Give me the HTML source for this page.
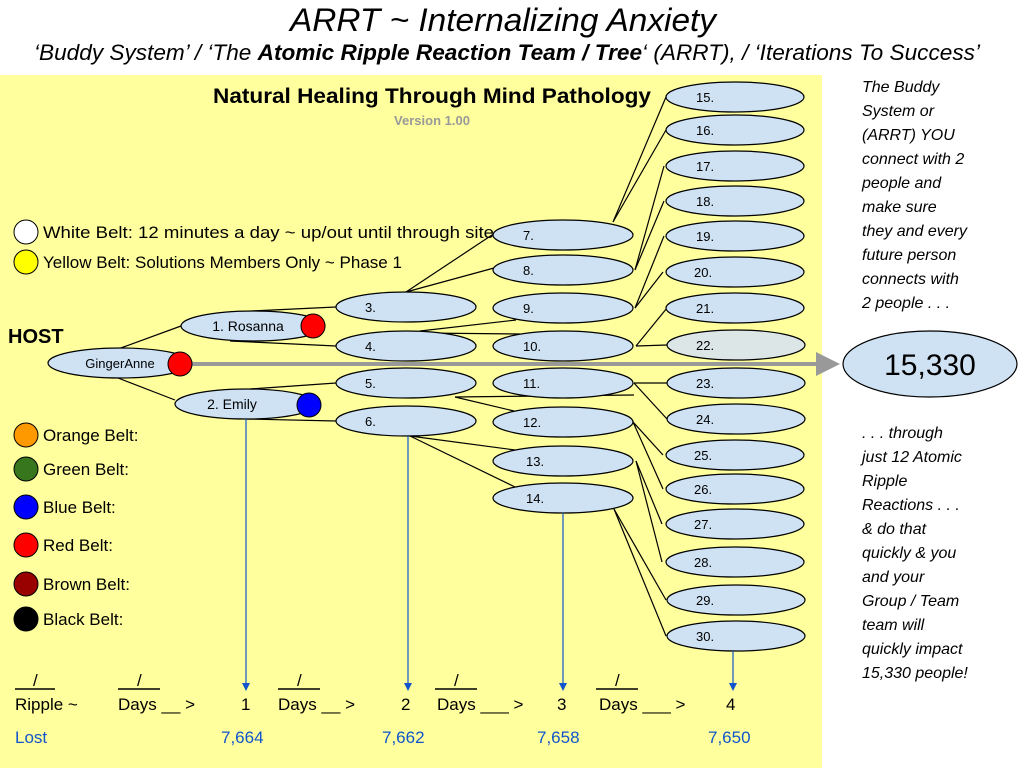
<!DOCTYPE html>
<html><head><meta charset="utf-8"><style>
html,body{margin:0;padding:0;background:#fff;}
svg{display:block;font-family:"Liberation Sans",sans-serif;}
</style></head><body>
<svg width="1024" height="768" viewBox="0 0 1024 768" xmlns="http://www.w3.org/2000/svg">
<defs>
<marker id="ga" markerWidth="6" markerHeight="6" refX="5" refY="3" orient="auto" markerUnits="strokeWidth"><path d="M0,0 L6,3 L0,6 z" fill="#999"/></marker>
<marker id="ba" markerWidth="8" markerHeight="8" refX="7" refY="4" orient="auto" markerUnits="userSpaceOnUse"><path d="M0,0 L8,4 L0,8 z" fill="#1155cc"/></marker>
</defs>
<rect x="0" y="75" width="822" height="693" fill="#ffff9e"/>
<text x="503" y="31" font-size="32" font-style="italic" text-anchor="middle" textLength="426" lengthAdjust="spacingAndGlyphs">ARRT ~ Internalizing Anxiety</text>
<text x="507" y="60" font-size="22" font-style="italic" text-anchor="middle" textLength="946" lengthAdjust="spacingAndGlyphs">‘Buddy System’ / ‘The <tspan font-weight="bold">Atomic Ripple Reaction Team / Tree</tspan>‘ (ARRT), / ‘Iterations To Success’</text>
<text x="432" y="103" font-size="21" font-weight="bold" text-anchor="middle" textLength="438" lengthAdjust="spacingAndGlyphs">Natural Healing Through Mind Pathology</text>
<text x="432" y="125" font-size="13" font-weight="bold" fill="#999" text-anchor="middle">Version 1.00</text>

<g font-size="16" font-style="italic">
<text x="862" y="92">The Buddy</text><text x="862" y="116">System or</text><text x="862" y="140">(ARRT) YOU</text><text x="862" y="164">connect with 2</text><text x="862" y="188">people and</text><text x="862" y="212">make sure</text><text x="862" y="236">they and every</text><text x="862" y="260">future person</text><text x="862" y="284">connects with</text><text x="862" y="308">2 people . . .</text>
<text x="862" y="438">. . . through</text><text x="862" y="462">just 12 Atomic</text><text x="862" y="486">Ripple</text><text x="862" y="510">Reactions . . .</text><text x="862" y="534">&amp; do that</text><text x="862" y="558">quickly &amp; you</text><text x="862" y="582">and your</text><text x="862" y="606">Group / Team</text><text x="862" y="630">team will</text><text x="862" y="654">quickly impact</text><text x="862" y="678">15,330 people!</text>
</g>

<g stroke="#000" stroke-width="1.2" fill="none">
<line x1="118" y1="349" x2="181" y2="326"/><line x1="118" y1="378" x2="175" y2="400"/>
<line x1="230" y1="312" x2="336" y2="307"/><line x1="230" y1="341" x2="336" y2="346"/>
<line x1="246" y1="419" x2="336" y2="421"/><line x1="250" y1="389" x2="336" y2="383"/>
<line x1="406" y1="292" x2="495" y2="233"/><line x1="406" y1="292" x2="494" y2="268"/>
<line x1="420" y1="331" x2="516" y2="320"/><line x1="420" y1="333" x2="520" y2="334"/>
<line x1="455" y1="397" x2="634" y2="395"/><line x1="455" y1="397" x2="514" y2="411"/>
<line x1="410" y1="436" x2="515" y2="450"/><line x1="410" y1="436" x2="515" y2="487"/>
<line x1="613" y1="222" x2="666" y2="97"/><line x1="613" y1="222" x2="666" y2="130"/>
<line x1="635" y1="270" x2="664" y2="166"/><line x1="635" y1="270" x2="664" y2="201"/>
<line x1="635" y1="308" x2="664" y2="236"/><line x1="635" y1="308" x2="663" y2="272"/>
<line x1="636" y1="346" x2="667" y2="308"/><line x1="636" y1="346" x2="667" y2="345"/>
<line x1="634" y1="383" x2="667" y2="383"/><line x1="634" y1="383" x2="667" y2="419"/>
<line x1="633" y1="422" x2="663" y2="455"/><line x1="633" y1="422" x2="663" y2="489"/>
<line x1="636" y1="461" x2="662" y2="524"/><line x1="636" y1="461" x2="662" y2="562"/>
<line x1="614" y1="509" x2="666" y2="600"/><line x1="614" y1="509" x2="666" y2="636"/>
</g>

<g fill="#cfe2f3" stroke="#000" stroke-width="1.2">
<ellipse cx="120" cy="363" rx="72" ry="15"/>
<ellipse cx="253" cy="326" rx="72" ry="15"/>
<ellipse cx="246" cy="404" rx="71" ry="15"/>
<ellipse cx="406" cy="307" rx="70" ry="15"/><ellipse cx="406" cy="346" rx="70" ry="15"/><ellipse cx="406" cy="383" rx="70" ry="15"/><ellipse cx="406" cy="421" rx="70" ry="15"/>
<ellipse cx="563" cy="235" rx="70" ry="15"/><ellipse cx="563" cy="270" rx="70" ry="15"/><ellipse cx="563" cy="308" rx="70" ry="15"/><ellipse cx="563" cy="346" rx="70" ry="15"/><ellipse cx="563" cy="383" rx="70" ry="15"/><ellipse cx="563" cy="422" rx="70" ry="15"/><ellipse cx="563" cy="461" rx="70" ry="15"/><ellipse cx="563" cy="498" rx="70" ry="15"/>
<ellipse cx="735" cy="97" rx="69" ry="15"/><ellipse cx="735" cy="130" rx="69" ry="15"/><ellipse cx="735" cy="166" rx="69" ry="15"/><ellipse cx="735" cy="201" rx="69" ry="15"/><ellipse cx="735" cy="236" rx="69" ry="15"/><ellipse cx="735" cy="272" rx="69" ry="15"/><ellipse cx="735" cy="308" rx="69" ry="15"/><ellipse cx="736" cy="345" rx="69" ry="15" fill="#dce6e6"/><ellipse cx="736" cy="383" rx="69" ry="15"/><ellipse cx="736" cy="419" rx="69" ry="15"/><ellipse cx="735" cy="455" rx="69" ry="15"/><ellipse cx="735" cy="489" rx="69" ry="15"/><ellipse cx="735" cy="524" rx="69" ry="15"/><ellipse cx="735" cy="562" rx="69" ry="15"/><ellipse cx="736" cy="600" rx="69" ry="15"/><ellipse cx="736" cy="636" rx="69" ry="15"/>
<ellipse cx="930" cy="364" rx="87" ry="33"/>
</g>

<line x1="192" y1="364" x2="836" y2="364" stroke="#999" stroke-width="4" marker-end="url(#ga)"/>

<g stroke="#000" stroke-width="1">
<circle cx="180" cy="364" r="12" fill="#f00"/><circle cx="313" cy="326" r="12" fill="#f00"/><circle cx="309" cy="405" r="12" fill="#00f"/>
<circle cx="26" cy="232" r="12" fill="#fff"/><circle cx="26" cy="262" r="12" fill="#ff0"/>
<circle cx="26" cy="435" r="12" fill="#ff9900"/><circle cx="26" cy="469" r="12" fill="#38761d"/><circle cx="26" cy="507" r="12" fill="#00f"/><circle cx="26" cy="545" r="12" fill="#f00"/><circle cx="26" cy="584" r="12" fill="#990000"/><circle cx="26" cy="619" r="12" fill="#000"/>
</g>

<g font-size="13" fill="#000">
<text x="120" y="368" text-anchor="middle">GingerAnne</text>
<text x="248" y="331" text-anchor="middle" font-size="14">1. Rosanna</text>
<text x="232" y="409" text-anchor="middle" font-size="14">2. Emily</text>
<text x="365" y="312">3.</text><text x="365" y="351">4.</text><text x="365" y="388">5.</text><text x="365" y="426">6.</text>
<text x="523" y="240">7.</text><text x="523" y="275">8.</text><text x="523" y="313">9.</text><text x="523" y="351">10.</text><text x="523" y="388">11.</text><text x="523" y="427">12.</text><text x="526" y="466">13.</text><text x="526" y="503">14.</text>
<text x="696" y="102">15.</text><text x="696" y="135">16.</text><text x="696" y="171">17.</text><text x="696" y="206">18.</text><text x="696" y="241">19.</text><text x="694" y="277">20.</text><text x="696" y="313">21.</text><text x="696" y="350">22.</text><text x="696" y="388">23.</text><text x="696" y="424">24.</text><text x="694" y="460">25.</text><text x="694" y="494">26.</text><text x="694" y="529">27.</text><text x="694" y="567">28.</text><text x="696" y="605">29.</text><text x="696" y="641">30.</text>
</g>
<text x="930" y="375" font-size="30" text-anchor="middle">15,330</text>

<text x="8" y="343" font-size="20" font-weight="bold">HOST</text>
<g font-size="17">
<text x="43" y="238" textLength="451" lengthAdjust="spacingAndGlyphs">White Belt: 12 minutes a day ~ up/out until through site</text>
<text x="43" y="268">Yellow Belt: Solutions Members Only ~ Phase 1</text>
<text x="43" y="441">Orange Belt:</text><text x="43" y="475">Green Belt:</text><text x="43" y="513">Blue Belt:</text><text x="43" y="551">Red Belt:</text><text x="43" y="590">Brown Belt:</text><text x="43" y="625">Black Belt:</text>
</g>

<g stroke="#1155cc" stroke-width="1.2">
<line x1="246" y1="419" x2="246" y2="690" marker-end="url(#ba)"/>
<line x1="408" y1="436" x2="408" y2="690" marker-end="url(#ba)"/>
<line x1="563" y1="513" x2="563" y2="690" marker-end="url(#ba)"/>
<line x1="733" y1="651" x2="733" y2="690" marker-end="url(#ba)"/>
</g>

<g stroke="#000" stroke-width="1.5">
<line x1="15" y1="689" x2="55" y2="689"/><line x1="118" y1="689" x2="160" y2="689"/><line x1="278" y1="689" x2="320" y2="689"/><line x1="435" y1="689" x2="477" y2="689"/><line x1="596" y1="689" x2="638" y2="689"/>
</g>
<g font-size="17">
<text x="33" y="686">/</text><text x="137" y="686">/</text><text x="297" y="686">/</text><text x="454" y="686">/</text><text x="615" y="686">/</text>
<text x="15" y="710">Ripple ~</text>
<text x="118" y="710">Days __ &gt;</text>
<text x="241" y="710">1</text>
<text x="278" y="710">Days __ &gt;</text>
<text x="401" y="710">2</text>
<text x="437" y="710">Days ___ &gt;</text>
<text x="557" y="710">3</text>
<text x="599" y="710">Days ___ &gt;</text>
<text x="726" y="710">4</text>
</g>
<g font-size="17" fill="#1155cc">
<text x="15" y="743">Lost</text><text x="221" y="743">7,664</text><text x="382" y="743">7,662</text><text x="537" y="743">7,658</text><text x="708" y="743">7,650</text>
</g>
</svg>
</body></html>
